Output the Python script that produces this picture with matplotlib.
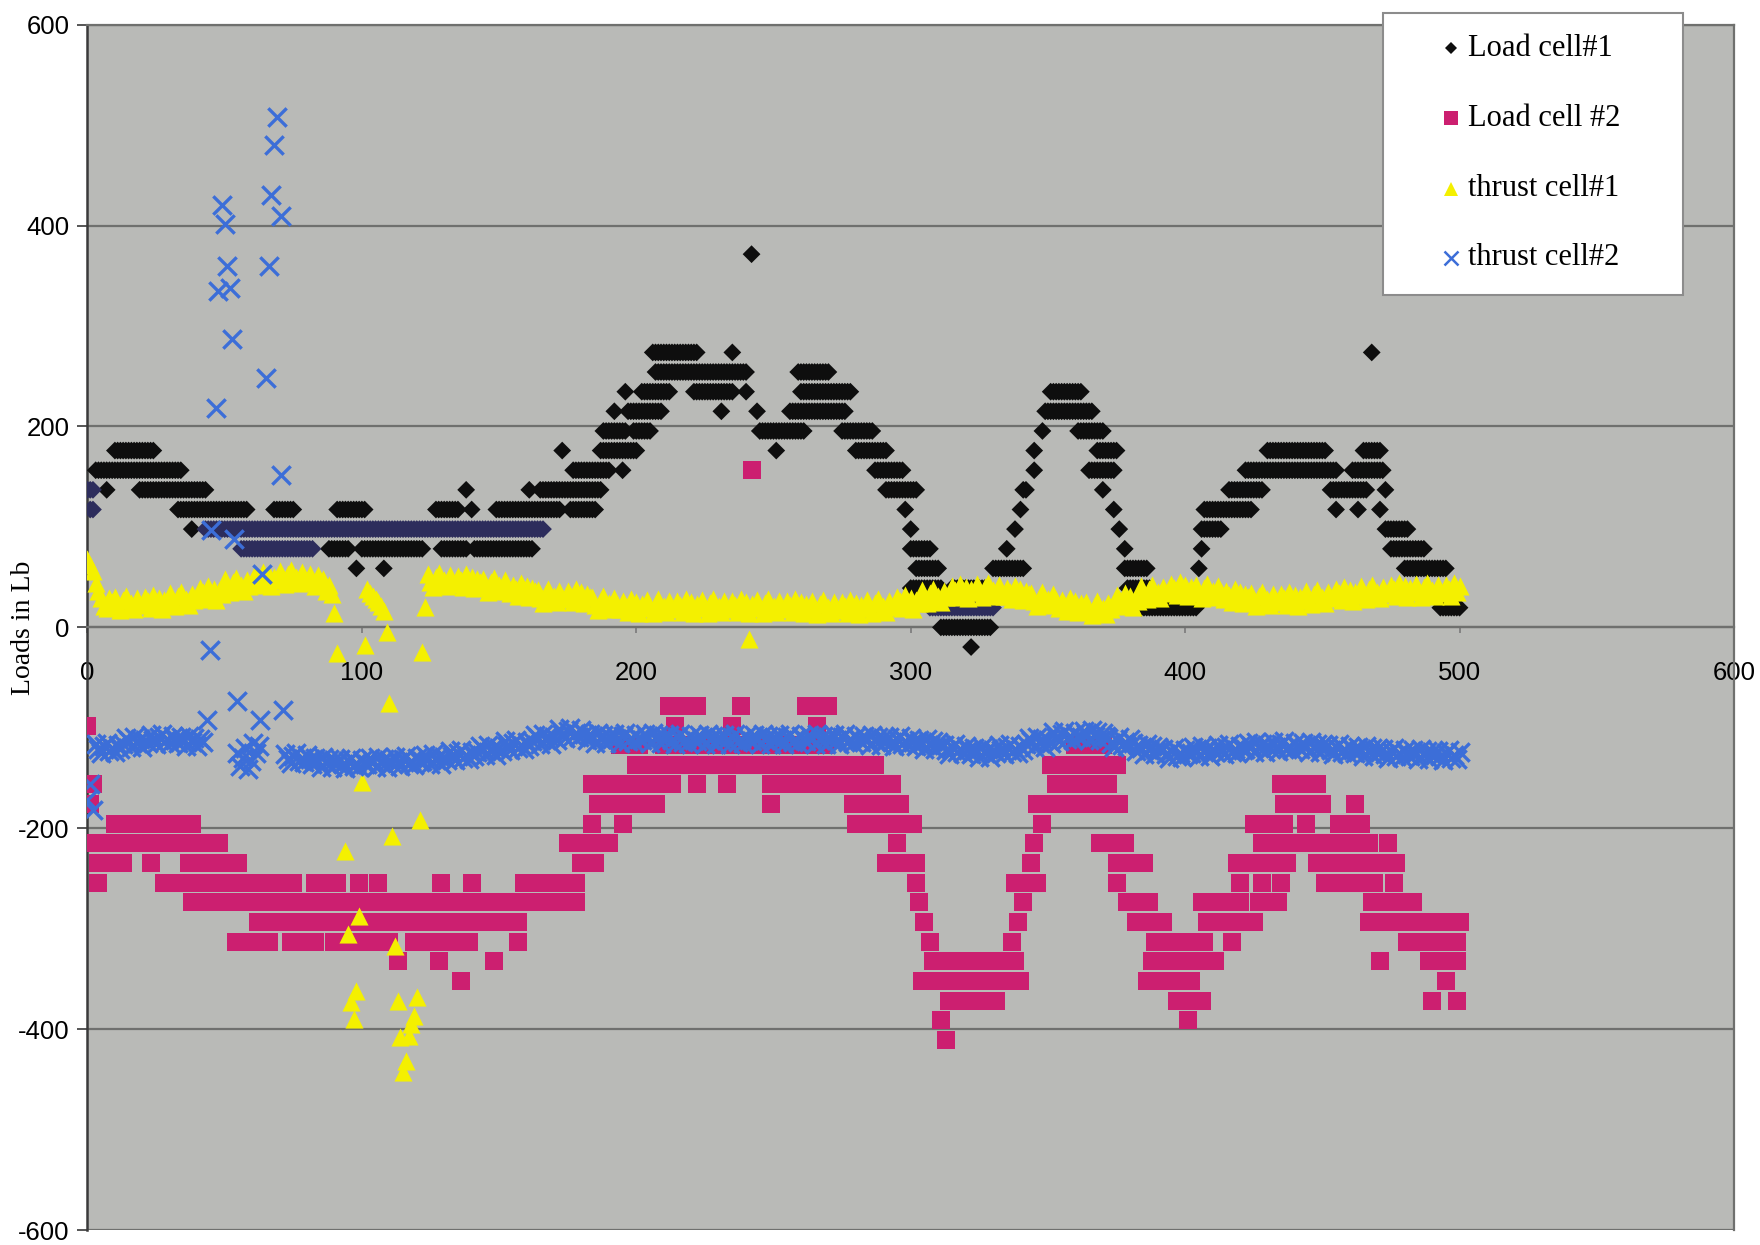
import numpy as np
import matplotlib
matplotlib.use("Agg")
import matplotlib.pyplot as plt
from matplotlib.patches import Rectangle
from matplotlib.lines import Line2D

# ---------------------------------------------------------------------------
# Data: loads (lb) against sample number
# Load cells are quantised; stored as runs (first sample, last sample, load)
# ---------------------------------------------------------------------------
LC1_RUNS = [
    (7, 7, 136.9), (3, 34, 156.4), (10, 24, 176.0), (19, 43, 136.9), (33, 58, 117.3), (38, 38, 97.8),
    (68, 75, 117.3), (91, 101, 117.3), (127, 135, 117.3), (140, 140, 117.3), (149, 172, 117.3), (176, 185, 117.3),
    (88, 95, 78.2), (100, 122, 78.2), (129, 138, 78.2), (141, 162, 78.2),
    (98, 98, 58.7), (108, 108, 58.7),
    (138, 138, 136.9), (161, 161, 136.9), (165, 187, 136.9),
    (173, 173, 176.0), (177, 190, 156.4), (195, 195, 156.4), (187, 200, 176.0),
    (188, 196, 195.5), (199, 205, 195.5), (192, 192, 215.1), (197, 209, 215.1),
    (196, 196, 234.6), (202, 212, 234.6), (221, 235, 234.6), (240, 240, 234.6),
    (207, 240, 254.2), (206, 222, 273.7), (235, 235, 273.7),
    (231, 231, 215.1), (244, 244, 215.1), (242, 242, 371.5),
    (245, 261, 195.5), (251, 251, 176.0), (256, 276, 215.1), (260, 278, 234.6), (259, 270, 254.2),
    (275, 286, 195.5), (280, 291, 176.0), (287, 297, 156.4), (291, 302, 136.9),
    (298, 298, 117.3), (300, 300, 97.8), (300, 307, 78.2), (302, 310, 58.7), (300, 311, 39.1),
    (315, 328, 39.1), (311, 329, 0.0), (322, 322, -19.6),
    (330, 341, 58.7), (335, 335, 78.2), (338, 338, 97.8), (340, 340, 117.3), (341, 342, 136.9),
    (345, 345, 156.4), (345, 345, 176.0), (348, 348, 195.5), (349, 366, 215.1), (351, 362, 234.6),
    (361, 370, 195.5), (368, 375, 176.0), (365, 374, 156.4),
    (370, 370, 136.9), (374, 374, 117.3), (376, 376, 97.8), (378, 378, 78.2), (378, 386, 58.7), (379, 387, 39.1),
    (384, 404, 19.6), (405, 405, 58.7), (406, 406, 78.2), (406, 413, 97.8), (407, 424, 117.3), (416, 428, 136.9),
    (422, 455, 156.4), (430, 451, 176.0), (453, 466, 136.9), (455, 455, 117.3), (463, 463, 117.3),
    (461, 472, 156.4), (465, 471, 176.0), (468, 468, 273.7), (473, 473, 136.9), (471, 471, 117.3),
    (473, 481, 97.8), (475, 487, 78.2), (480, 495, 58.7), (493, 500, 19.6),
]
# Load cell #1 samples printed in a darker navy tone
LC1_NAVY_RUNS = [
    (0, 2, 136.9), (1, 2, 117.3), (43, 166, 97.8), (56, 82, 78.2), (307, 330, 19.6),
]

LC2_RUNS = [
    (0, 0, -97.8), (1, 1, -176.0), (2, 2, -156.4),
    (10, 38, -195.5), (2, 48, -215.1),
    (4, 13, -234.6), (23, 23, -234.6), (37, 55, -234.6),
    (4, 4, -254.2), (28, 40, -254.2), (44, 75, -254.2), (83, 91, -254.2), (99, 99, -254.2),
    (106, 106, -254.2), (129, 129, -254.2), (140, 140, -254.2), (159, 178, -254.2),
    (38, 109, -273.7), (111, 141, -273.7), (145, 171, -273.7), (173, 178, -273.7),
    (62, 77, -293.3), (80, 123, -293.3), (125, 157, -293.3),
    (54, 66, -312.8), (74, 83, -312.8), (90, 95, -312.8), (99, 110, -312.8), (119, 133, -312.8),
    (139, 139, -312.8), (157, 157, -312.8),
    (113, 113, -332.4), (128, 128, -332.4), (148, 148, -332.4), (136, 136, -351.9),
    (175, 190, -215.1), (180, 185, -234.6), (184, 184, -195.5), (195, 195, -195.5),
    (186, 196, -176.0), (198, 207, -176.0), (184, 213, -156.4), (194, 201, -117.3),
    (200, 211, -136.9), (214, 233, -136.9), (238, 282, -136.9), (287, 287, -136.9),
    (222, 222, -156.4), (233, 233, -156.4), (249, 266, -156.4), (270, 293, -156.4),
    (249, 249, -176.0), (279, 296, -176.0),
    (212, 222, -78.2), (238, 238, -78.2), (262, 270, -78.2),
    (214, 214, -97.8), (235, 235, -97.8), (266, 266, -97.8),
    (210, 269, -117.3), (242, 242, 156.4),
    (280, 301, -195.5), (295, 295, -215.1), (291, 302, -234.6),
    (302, 302, -254.2), (303, 303, -273.7), (305, 305, -293.3), (307, 307, -312.8), (308, 308, -332.4),
    (314, 325, -332.4), (328, 338, -332.4), (304, 340, -351.9), (314, 314, -371.5), (320, 331, -371.5),
    (311, 311, -391.0), (313, 313, -410.6),
    (337, 337, -312.8), (339, 339, -293.3), (341, 341, -273.7), (338, 346, -254.2), (344, 344, -234.6),
    (345, 345, -215.1), (348, 348, -195.5),
    (346, 376, -176.0), (353, 367, -156.4), (372, 372, -156.4), (351, 375, -136.9), (360, 370, -117.3),
    (369, 378, -215.1), (375, 385, -234.6), (375, 375, -254.2), (379, 387, -273.7), (382, 392, -293.3),
    (389, 407, -312.8), (388, 411, -332.4), (386, 397, -351.9), (402, 402, -351.9), (397, 406, -371.5),
    (401, 401, -391.0),
    (408, 425, -293.3), (417, 417, -312.8), (406, 420, -273.7), (427, 434, -273.7),
    (420, 420, -254.2), (428, 428, -254.2), (435, 435, -254.2), (419, 437, -234.6), (428, 451, -215.1),
    (425, 436, -195.5), (444, 444, -195.5), (436, 450, -176.0), (435, 440, -156.4), (443, 448, -156.4),
    (462, 462, -176.0), (456, 464, -195.5), (457, 467, -215.1), (474, 474, -215.1),
    (448, 462, -234.6), (466, 477, -234.6), (451, 469, -254.2), (476, 476, -254.2), (468, 483, -273.7),
    (467, 500, -293.3), (481, 481, -312.8), (487, 499, -312.8), (471, 471, -332.4), (489, 499, -332.4),
    (495, 495, -351.9), (490, 490, -371.5), (499, 499, -371.5),
]

# Thrust cell #1: samples 0-88 and 124-500, plus the scattered samples between them
TC1_X_A = list(range(0, 89))
TC1_Y_A = [68, 62, 56, 44, 36, 29, 21, 19, 29, 25,
           30, 22, 17, 27, 31, 20, 24, 18, 29, 23,
           22, 30, 26, 19, 32, 23, 29, 18, 27, 24,
           34, 26, 21, 31, 35, 24, 28, 22, 33, 27,
           31, 39, 35, 28, 41, 32, 38, 27, 36, 33,
           48, 40, 35, 45, 49, 38, 42, 36, 47, 41,
           45, 53, 49, 42, 55, 46, 52, 41, 50, 47,
           56, 48, 43, 53, 57, 46, 50, 44, 55, 49,
           45, 53, 48, 41, 52, 43, 48, 36, 42]
TC1_X_B = list(range(124, 501))
TC1_Y_B = [53, 45, 40, 50, 54, 43, 47, 41, 52, 46,
           43, 51, 47, 40, 53, 44, 50, 39, 48, 45,
           48, 40, 35, 45, 49, 38, 42, 36, 47, 41,
           34, 42, 38, 31, 44, 35, 41, 30, 39, 36,
           37, 29, 24, 34, 38, 27, 31, 25, 36, 30,
           28, 36, 32, 25, 38, 29, 35, 24, 33, 30,
           30, 22, 17, 27, 31, 20, 24, 18, 29, 23,
           18, 26, 22, 15, 28, 19, 25, 14, 23, 20,
           27, 19, 14, 24, 28, 17, 21, 15, 26, 20,
           18, 26, 22, 15, 28, 19, 25, 14, 23, 20,
           27, 19, 14, 24, 28, 17, 21, 15, 26, 20,
           18, 26, 22, 15, 28, 19, 25, 14, 23, 20,
           27, 19, 14, 24, 28, 17, 21, 15, 26, 20,
           18, 26, 22, 15, 28, 19, 25, 14, 23, 20,
           26, 18, 13, 23, 27, 16, 20, 14, 25, 19,
           17, 25, 21, 14, 27, 18, 24, 13, 22, 19,
           27, 19, 14, 24, 28, 17, 21, 15, 26, 20,
           22, 30, 26, 19, 32, 23, 29, 18, 27, 24,
           37, 29, 24, 34, 38, 27, 31, 25, 36, 30,
           33, 41, 37, 30, 43, 34, 40, 29, 38, 35,
           43, 35, 30, 40, 44, 33, 37, 31, 42, 36,
           31, 39, 35, 28, 41, 32, 38, 27, 36, 33,
           34, 26, 21, 31, 35, 24, 28, 22, 33, 27,
           19, 27, 23, 16, 29, 20, 26, 15, 24, 21,
           25, 17, 12, 22, 26, 15, 19, 13, 24, 18,
           24, 32, 28, 21, 34, 25, 31, 20, 29, 26,
           41, 33, 28, 38, 42, 31, 35, 29, 40, 34,
           35, 43, 39, 32, 45, 36, 42, 31, 40, 37,
           42, 34, 29, 39, 43, 32, 36, 30, 41, 35,
           28, 36, 32, 25, 38, 29, 35, 24, 33, 30,
           34, 26, 21, 31, 35, 24, 28, 22, 33, 27,
           25, 33, 29, 22, 35, 26, 32, 21, 30, 27,
           36, 28, 23, 33, 37, 26, 30, 24, 35, 29,
           30, 38, 34, 27, 40, 31, 37, 26, 35, 32,
           41, 33, 28, 38, 42, 31, 35, 29, 40, 34,
           34, 42, 38, 31, 44, 35, 41, 30, 39, 36,
           43, 35, 30, 40, 44, 33, 37, 31, 42, 36,
           34, 42, 38, 31, 44, 35, 41]
TC1_X_C = [89, 90, 91, 94, 95, 96, 97, 98, 99, 100, 101, 102, 103, 104, 105, 106, 107, 108,
           109, 110, 111, 112, 113, 114, 115, 116, 117, 118, 119, 120, 121, 122, 123, 241]
TC1_Y_C = [33, 14, -26, -223, -305, -373, -390, -362, -287, -154, -18, 38, 34, 31, 28, 25, 21, 16,
           -5, -75, -208, -317, -372, -408, -443, -432, -407, -395, -387, -368, -192, -25, 20, -12]

# Thrust cell #2: samples 3-42 and 72-500, plus the scattered samples
TC2_X_A = list(range(3, 43))
TC2_Y_A = [-116, -121, -125, -118, -115, -123, -120, -124, -117, -121,
           -116, -110, -113, -119, -109, -115, -111, -119, -112, -115,
           -107, -112, -116, -109, -106, -114, -111, -115, -108, -112,
           -115, -109, -112, -118, -108, -114, -110, -118, -111, -114]
TC2_X_B = list(range(72, 501))
TC2_Y_B = [-126, -131, -135, -128, -125, -133, -130, -134, -127, -131,
           -136, -130, -133, -139, -129, -135, -131, -139, -132, -135,
           -131, -136, -140, -133, -130, -138, -135, -139, -132, -136,
           -136, -130, -133, -139, -129, -135, -131, -139, -132, -135,
           -129, -134, -138, -131, -128, -136, -133, -137, -130, -134,
           -133, -127, -130, -136, -126, -132, -128, -136, -129, -132,
           -123, -128, -132, -125, -122, -130, -127, -131, -124, -128,
           -124, -118, -121, -127, -117, -123, -119, -127, -120, -123,
           -113, -118, -122, -115, -112, -120, -117, -121, -114, -118,
           -113, -107, -110, -116, -106, -112, -108, -116, -109, -112,
           -101, -106, -110, -103, -100, -108, -105, -109, -102, -106,
           -112, -106, -109, -115, -105, -111, -107, -115, -108, -111,
           -106, -111, -115, -108, -105, -113, -110, -114, -107, -111,
           -112, -106, -109, -115, -105, -111, -107, -115, -108, -111,
           -107, -112, -116, -109, -106, -114, -111, -115, -108, -112,
           -113, -107, -110, -116, -106, -112, -108, -116, -109, -112,
           -107, -112, -116, -109, -106, -114, -111, -115, -108, -112,
           -113, -107, -110, -116, -106, -112, -108, -116, -109, -112,
           -107, -112, -116, -109, -106, -114, -111, -115, -108, -112,
           -113, -107, -110, -116, -106, -112, -108, -116, -109, -112,
           -107, -112, -116, -109, -106, -114, -111, -115, -108, -112,
           -114, -108, -111, -117, -107, -113, -109, -117, -110, -113,
           -109, -114, -118, -111, -108, -116, -113, -117, -110, -114,
           -118, -112, -115, -121, -111, -117, -113, -121, -114, -117,
           -117, -122, -126, -119, -116, -124, -121, -125, -118, -122,
           -126, -120, -123, -129, -119, -125, -121, -129, -122, -125,
           -117, -122, -126, -119, -116, -124, -121, -125, -118, -122,
           -116, -110, -113, -119, -109, -115, -111, -119, -112, -115,
           -104, -109, -113, -106, -103, -111, -108, -112, -105, -109,
           -109, -103, -106, -112, -102, -108, -104, -112, -105, -108,
           -110, -115, -119, -112, -109, -117, -114, -118, -111, -115,
           -123, -117, -120, -126, -116, -122, -118, -126, -119, -122,
           -121, -126, -130, -123, -120, -128, -125, -129, -122, -126,
           -125, -119, -122, -128, -118, -124, -120, -128, -121, -124,
           -117, -122, -126, -119, -116, -124, -121, -125, -118, -122,
           -121, -115, -118, -124, -114, -120, -116, -124, -117, -120,
           -114, -119, -123, -116, -113, -121, -118, -122, -115, -119,
           -121, -115, -118, -124, -114, -120, -116, -124, -117, -120,
           -117, -122, -126, -119, -116, -124, -121, -125, -118, -122,
           -125, -119, -122, -128, -118, -124, -120, -128, -121, -124,
           -121, -126, -130, -123, -120, -128, -125, -129, -122, -126,
           -128, -122, -125, -131, -121, -127, -123, -131, -124, -127,
           -123, -128, -132, -125, -122, -130, -127, -131, -124]
TC2_X_C = [0, 1, 2, 43.5, 44.5, 45, 47, 47.5, 49, 50, 51, 52, 52.5, 53.5, 54.5, 54.5, 55.5,
           56.5, 57.5, 58.5, 59.5, 60.5, 61.5, 62.5, 63, 63.5, 65, 66, 67, 68, 69, 70.5, 70.7, 71.4]
TC2_Y_C = [-172, -156, -182, -92, -23, 97, 218, 335, 420, 402, 360, 338, 287, 88, -73, -125, -138,
           -130, -120, -141, -133, -115, -125, -118, -92, 53, 248, 360, 430, 480, 508, 410, 152, -82]

SERIES_LABELS = ["Load cell#1", "Load cell #2", "thrust cell#1", "thrust cell#2"]
X_TICKS = [0, 100, 200, 300, 400, 500, 600]
Y_TICKS = [-600, -400, -200, 0, 200, 400, 600]

# ---------------------------------------------------------------------------
BLACK = "#0e0e0e"
NAVY = "#2d2d5c"
PINK = "#cc1f70"
YELLOW = "#f4f000"
BLUE = "#3c6ed8"
PLOT_BG = "#b9bab7"
GRID = "#6f706e"


def expand(runs):
    xs, ys = [], []
    for first, last, load in runs:
        for s in range(first, last + 1):
            xs.append(s)
            ys.append(load)
    return xs, ys


lc1_x, lc1_y = expand(LC1_RUNS)
lc1n_x, lc1n_y = expand(LC1_NAVY_RUNS)
lc2_x, lc2_y = expand(LC2_RUNS)
tc1_x = TC1_X_A + TC1_X_C + TC1_X_B
tc1_y = TC1_Y_A + TC1_Y_C + TC1_Y_B
tc2_x = TC2_X_C + TC2_X_A + TC2_X_B
tc2_y = TC2_Y_C + TC2_Y_A + TC2_Y_B
assert len(tc1_x) == len(tc1_y) and len(tc2_x) == len(tc2_y)

fig = plt.figure(figsize=(17.6, 12.45), dpi=100)
ax = fig.add_axes([0.0497, 0.0120, 0.9355, 0.9682])
ax.set_facecolor(PLOT_BG)
ax.set_xlim(0, 600)
ax.set_ylim(-600, 600)

# series drawn in worksheet order: later series cover earlier ones
ax.scatter(lc1_x + lc1n_x, lc1_y + lc1n_y, marker="D", s=82,
           c=[BLACK] * len(lc1_x) + [NAVY] * len(lc1n_x), linewidths=0, zorder=3)
ax.scatter(lc2_x, lc2_y, marker="s", s=160, color=PINK, linewidths=0, zorder=4)
ax.scatter(tc1_x, tc1_y, marker="^", s=170, color=YELLOW, linewidths=0, zorder=5)
ax.scatter(tc2_x, tc2_y, marker="x", s=175, color=BLUE, linewidths=2.4, zorder=6)

ax.set_yticks(Y_TICKS)
ax.set_xticks(X_TICKS)
ax.yaxis.grid(True, color=GRID, linewidth=1.6)
ax.set_axisbelow(True)

for side in ("top", "right"):
    ax.spines[side].set_color(GRID)
    ax.spines[side].set_linewidth(1.6)
ax.spines["left"].set_color("#3a3a3a")
ax.spines["left"].set_linewidth(1.8)
ax.spines["bottom"].set_position(("data", 0))
ax.spines["bottom"].set_color(GRID)
ax.spines["bottom"].set_linewidth(1.6)

tick_font = {"family": "Liberation Sans", "size": 18.5}
ax.set_xticklabels([str(t) for t in X_TICKS], fontdict=tick_font)
ax.set_yticklabels([str(t) for t in Y_TICKS], fontdict=tick_font)
ax.tick_params(axis="y", direction="out", length=7, width=1.4, color="#555555", pad=6)
ax.tick_params(axis="x", direction="out", length=4, width=1.2, color="#7a7a7a", pad=20)

fig.text(0.0135, 0.4956, "Loads in Lb", rotation=90, ha="center", va="center",
         family="Liberation Serif", fontsize=20)

# legend box
fig.add_artist(Rectangle((0.7858, 0.7631), 0.1705, 0.2265, transform=fig.transFigure,
                         facecolor="white", edgecolor="#8c8c8c", linewidth=1.5, zorder=10))
legend_rows = [0.9614, 0.9052, 0.8482, 0.7928]
legend_marks = [
    dict(marker="D", markersize=6.5, color=BLACK, markeredgewidth=0),
    dict(marker="s", markersize=9.5, color=PINK, markeredgewidth=0),
    dict(marker="^", markersize=10.5, color=YELLOW, markeredgewidth=0),
    dict(marker="x", markersize=9.5, color=BLUE, markeredgewidth=1.8),
]
for yy, label, style in zip(legend_rows, SERIES_LABELS, legend_marks):
    fig.add_artist(Line2D([0.8244], [yy], linestyle="none", transform=fig.transFigure,
                          zorder=11, **style))
    fig.text(0.8341, yy, label, ha="left", va="center", family="Liberation Serif",
             fontsize=22, zorder=11)

fig.savefig("out.png", dpi=100, facecolor="white")
